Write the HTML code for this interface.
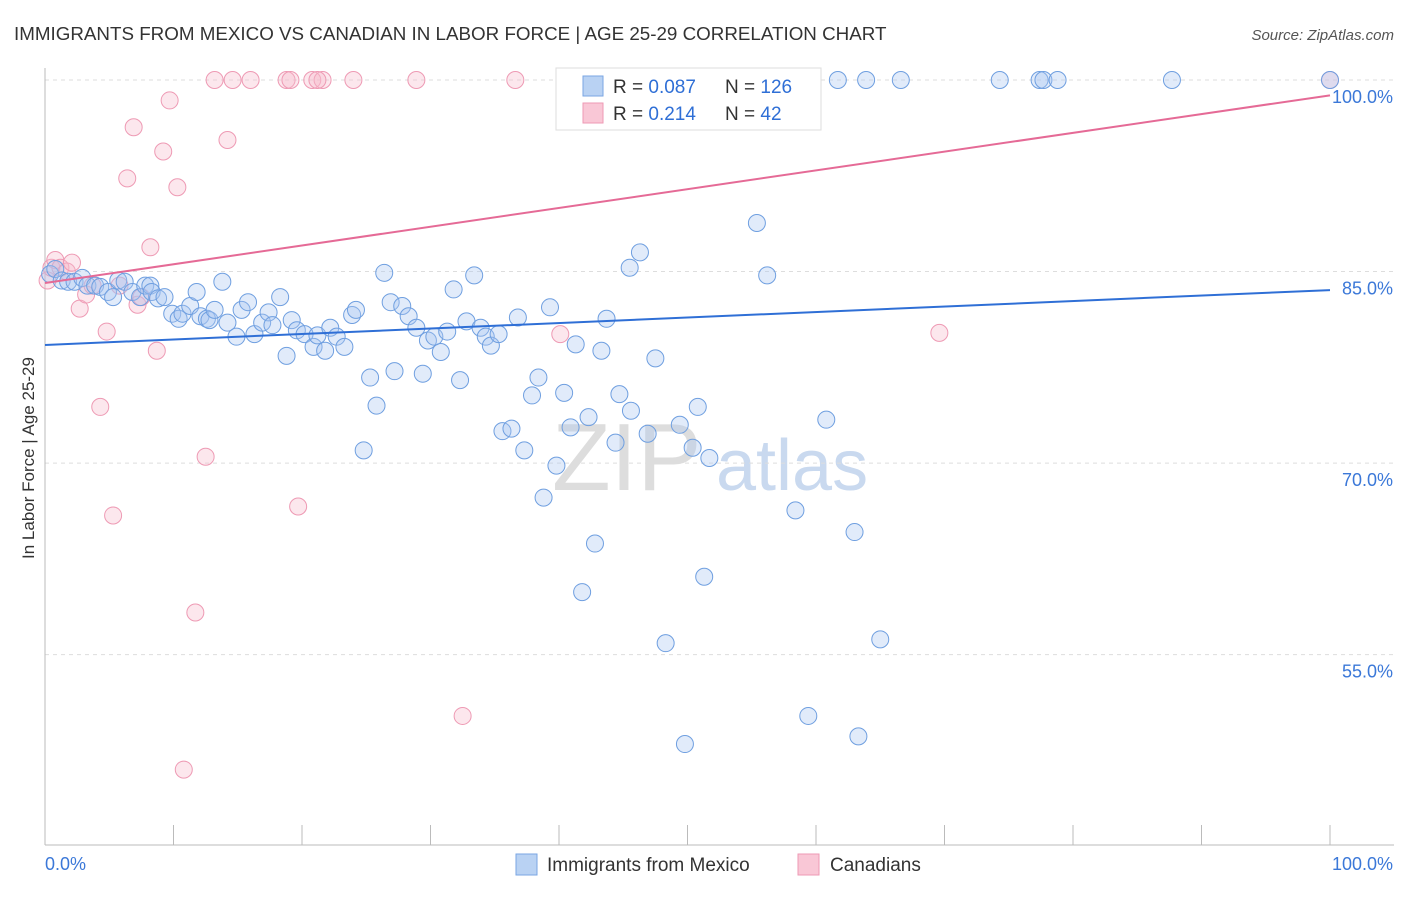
<!DOCTYPE html>
<html><head><meta charset="utf-8"><style>
body{margin:0;background:#fff;font-family:"Liberation Sans",sans-serif}
svg text{font-family:"Liberation Sans",sans-serif}
</style></head><body>
<svg id="c" width="1406" height="892">
<text x="14" y="40" font-size="18.8" fill="#333">IMMIGRANTS FROM MEXICO VS CANADIAN IN LABOR FORCE | AGE 25-29 CORRELATION CHART</text>
<text x="1394" y="40" font-size="15" fill="#555" font-style="italic" text-anchor="end">Source: ZipAtlas.com</text>
<text transform="translate(34,458) rotate(-90)" font-size="17" fill="#333" text-anchor="middle">In Labor Force | Age 25-29</text>
<g><text x="552" y="490" font-size="96" fill="#ddd" font-family="Liberation Serif">ZIP</text><text x="716" y="490" font-size="72" fill="#c9d9ef">atlas</text></g>
<g id="grid"></g><g id="pts"></g><g id="lines"></g>
<g>
<rect x="556" y="68" width="265" height="62" fill="#fff" stroke="#ddd"/>
<rect x="583" y="76" width="20" height="20" fill="#b9d2f3" stroke="#7aa6e3"/>
<rect x="583" y="103" width="20" height="20" fill="#f9c7d6" stroke="#ee9ab4"/>
<text x="613" y="93" font-size="19" fill="#333">R = <tspan fill="#2f6fd6">0.087</tspan></text>
<text x="725" y="93" font-size="19" fill="#333">N = <tspan fill="#2f6fd6">126</tspan></text>
<text x="613" y="120" font-size="19" fill="#333">R = <tspan fill="#2f6fd6"> 0.214</tspan></text>
<text x="725" y="120" font-size="19" fill="#333">N = <tspan fill="#2f6fd6"> 42</tspan></text>
</g>
<g>
<rect x="516" y="854" width="21" height="21" fill="#b9d2f3" stroke="#7aa6e3"/>
<text x="547" y="871" font-size="19" fill="#333">Immigrants from Mexico</text>
<rect x="798" y="854" width="21" height="21" fill="#f9c7d6" stroke="#ee9ab4"/>
<text x="830" y="871" font-size="19" fill="#333">Canadians</text>
</g>
<text x="45" y="870" font-size="18" fill="#3b78d8">0.0%</text>
<text x="1393" y="870" font-size="18" fill="#3b78d8" text-anchor="end">100.0%</text>
</svg>
<script>
const yTicks=[100,85,70,55];
const xTickVals=[0,10,20,30,40,50,60,70,80,90,100];
const blueX=[0.4,0.8,1.3,1.8,2.3,2.9,3.3,3.9,4.3,4.9,5.3,5.7,6.2,6.8,7.4,7.8,8.2,8.3,8.8,9.3,9.9,10.4,10.7,11.3,11.8,12.1,12.6,12.8,13.2,13.8,14.2,14.9,15.3,15.8,16.3,16.9,17.4,17.7,18.3,18.8,19.2,19.6,20.2,20.9,21.2,21.8,22.2,22.7,23.3,23.9,24.2,25.3,25.8,24.8,26.4,26.9,27.2,27.8,28.3,28.9,29.4,29.8,30.3,30.8,31.3,31.8,32.3,32.8,33.4,33.9,34.3,34.7,35.3,35.6,36.3,36.8,37.3,37.9,38.4,38.8,39.3,39.8,40.4,40.9,41.3,42.3,42.8,41.8,43.3,43.7,44.4,44.7,45.6,45.5,46.3,46.9,47.5,48.3,49.4,49.8,50.4,50.8,51.3,51.7,55.4,56.2,58.4,59.4,60.8,63.0,63.3,65.0,61.7,63.9,66.6,74.3,77.4,77.7,78.8,87.7,100,52.4,54.1,56.8];
const blueY=[84.8,85.2,84.3,84.2,84.2,84.5,83.9,83.9,83.8,83.4,83.0,84.3,84.2,83.4,83.0,83.9,83.9,83.4,82.9,83.0,81.7,81.3,81.7,82.3,83.4,81.5,81.3,81.2,82.0,84.2,81.0,79.9,82.0,82.6,80.1,81.0,81.8,80.8,83.0,78.4,81.2,80.4,80.1,79.1,80.0,78.8,80.6,79.9,79.1,81.6,82.0,76.7,74.5,71.0,84.9,82.6,77.2,82.3,81.5,80.6,77.0,79.6,79.9,78.7,80.3,83.6,76.5,81.1,84.7,80.6,79.9,79.2,80.1,72.5,72.7,81.4,71.0,75.3,76.7,67.3,82.2,69.8,75.5,72.8,79.3,73.6,63.7,59.9,78.8,81.3,71.6,75.4,74.1,85.3,86.5,72.3,78.2,55.9,73.0,48.0,71.2,74.4,61.1,70.4,88.8,84.7,66.3,50.2,73.4,64.6,48.6,56.2,100,100,100,100,100,100,100,100,100,100,100,100];
const pinkX=[0.2,0.5,0.8,1.2,1.7,2.1,2.7,3.2,3.7,4.3,4.8,5.3,5.8,6.4,6.9,7.2,7.5,8.2,8.7,9.2,9.7,10.3,10.8,11.7,12.5,13.2,14.2,14.6,16.0,18.8,19.1,19.7,20.8,21.6,24.0,28.9,32.5,36.6,40.1,69.6,100,21.2];
const pinkY=[84.3,85.3,85.9,85.3,85.0,85.7,82.1,83.2,83.9,74.4,80.3,65.9,83.9,92.3,96.3,82.4,83.0,86.9,78.8,94.4,98.4,91.6,46.0,58.3,70.5,100,95.3,100,100,100,100,66.6,100,100,100,100,50.2,100,80.1,80.2,100,100];
const NS="http://www.w3.org/2000/svg";
const L=45,R=1330,T=80,B=845;
const xs=v=>L+(R-L)*v/100;
const ys=v=>80+(100-v)*12.77;
const svg=document.getElementById('c');
function mk(tag,attrs,parent){const e=document.createElementNS(NS,tag);for(const k in attrs)e.setAttribute(k,attrs[k]);parent.appendChild(e);return e;}
const grid=document.getElementById('grid');
yTicks.forEach(v=>{
 const ln=mk('line',{x1:L,x2:1394,y1:ys(v),y2:ys(v),stroke:'#ddd','stroke-dasharray':'4,4'},grid);
 
 
 const t=mk('text',{x:1393,y:ys(v)+23,'font-size':18,fill:'#3b78d8','text-anchor':'end'},grid);
 t.textContent=v.toFixed(1)+'%';
 
 
});
const ax=mk('line',{x1:L,x2:L,y1:68,y2:B,stroke:'#bbb'},grid);


const bx=mk('line',{x1:L,x2:1394,y1:B,y2:B,stroke:'#bbb'},grid);


xTickVals.forEach(v=>{
 const tk=mk('line',{x1:xs(v),x2:xs(v),y1:825,y2:B,stroke:'#bbb'},grid);
 
 
});
const pts=document.getElementById('pts');
pinkX.forEach((x,i)=>{
 const c=mk('circle',{cx:xs(x),cy:ys(pinkY[i]),r:8.5,fill:'#f7b9cc','fill-opacity':0.35,stroke:'#ee9ab4','stroke-width':1},pts);
 
 
});
blueX.forEach((x,i)=>{
 const c=mk('circle',{cx:xs(x),cy:ys(blueY[i]),r:8.5,fill:'#a9c7f0','fill-opacity':0.35,stroke:'#6f9fe0','stroke-width':1},pts);
 
 
});
const trendB=[79.25,83.55],trendP=[84.1,98.8];
const lines=document.getElementById('lines');
const l1=mk('line',{x1:xs(0),x2:xs(100),y1:ys(trendB[0]),y2:ys(trendB[1]),stroke:'#2f6fd6','stroke-width':2},lines);


const l2=mk('line',{x1:xs(0),x2:xs(100),y1:ys(trendP[0]),y2:ys(trendP[1]),stroke:'#e56a96','stroke-width':2},lines);


</script>
</body></html>
